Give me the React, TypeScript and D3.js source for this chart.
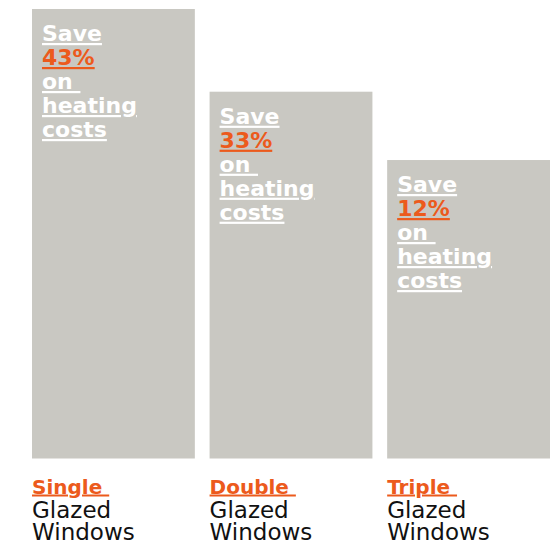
import React from "react";
import * as d3 from "d3";

const categories = ["Single", "Double", "Triple"];
const barValues = [100, 81.6, 66.4];
const savings = [43, 33, 12];
const labelLine2 = "Glazed";
const labelLine3 = "Windows";

const W = 560;
const H = 547;
const GRAY = "#c9c8c2";
const ORANGE = "#ec5a1c";

export default function App() {
  const x = d3.scaleBand<string>().domain(categories).range([32, 550]).paddingInner(0.083).paddingOuter(0);
  const y = d3.scaleLinear().domain([0, 100]).range([458.5, 9]);
  const bold: React.CSSProperties = {
    fontFamily: "'DejaVu Sans', sans-serif",
    fontWeight: 700,
    fontSize: 22,
    textDecoration: "underline",
    whiteSpace: "pre",
  };
  return (
    <svg width={W} height={H} style={{ position: "absolute", left: 0, top: 0 }}>
      {categories.map((c, i) => {
        const bx = x(c)!;
        const by = y(barValues[i]);
        const tx = bx + 10;
        const ty = by + 32;
        const lines = [
          { t: "Save", col: "#fff" },
          { t: `${savings[i]}%`, col: ORANGE },
          { t: "on ", col: "#fff" },
          { t: "heating", col: "#fff" },
          { t: "costs", col: "#fff" },
        ];
        return (
          <g key={c}>
            <rect x={bx} y={by} width={x.bandwidth()} height={y(0) - by} fill={GRAY} />
            {lines.map((l, j) => (
              <text key={j} x={tx} y={ty + j * 24} fill={l.col} style={bold}>
                {l.t}
              </text>
            ))}
            <text x={bx} y={493.5} fill={ORANGE} style={{ ...bold, fontSize: 20 }}>
              {c + " "}
            </text>
            <text x={bx} y={517.5} fill="#111" style={{ fontFamily: "'DejaVu Sans', sans-serif", fontSize: 23 }}>
              {labelLine2}
            </text>
            <text x={bx} y={539.5} fill="#111" style={{ fontFamily: "'DejaVu Sans', sans-serif", fontSize: 23 }}>
              {labelLine3}
            </text>
          </g>
        );
      })}
    </svg>
  );
}
